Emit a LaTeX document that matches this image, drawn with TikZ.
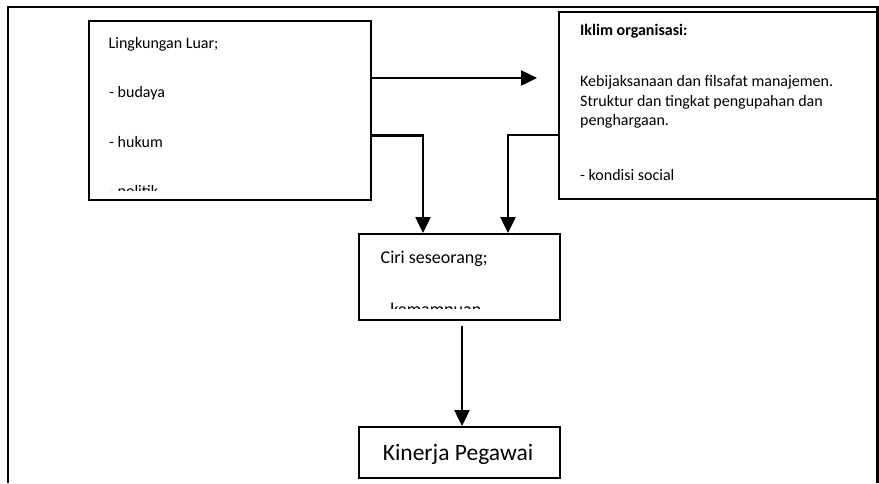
\documentclass[tikz,border=0pt]{standalone}
\usepackage{fontspec}
\setmainfont{Carlito}
\usetikzlibrary{arrows.meta}
\tikzset{
  box/.style={draw, line width=2pt, inner sep=0pt, fill=white},
  txt/.style={inner sep=0pt, anchor=base west, font=\fontsize{16}{20}\selectfont},
  arr/.style={line width=2.5pt, -{Triangle[width=15pt,length=16pt]}},
  frame/.style={line width=2.5pt}
}
\begin{document}
\begin{tikzpicture}[x=1pt,y=-1pt]
\useasboundingbox (0,0) rectangle (879,483);

% outer frame (open at the bottom)
\draw[frame] (8,483) -- (8,7) -- (877.5,7) -- (877.5,483);

% boxes
\node[box, minimum width=282pt, minimum height=179pt] (luar) at (230,110.5) {};
\node[box, minimum width=318.5pt, minimum height=187pt] (iklim) at (718.25,105.5) {};
\node[box, minimum width=201pt, minimum height=86pt] (ciri) at (459.5,277) {};
\node[box, minimum width=201pt, minimum height=51pt] (kinerja) at (459.5,452.5) {};
\draw[frame] (877.5,7) -- (877.5,200);

% text of the external environment box, cut off at the bottom
\begin{scope}
  \clip (89,21) rectangle (371,190.7);
  \node[txt] (l1) at (108.5,48) {Lingkungan Luar;};
  \node[txt] (l2) at (109,97.5) {- budaya};
  \node[txt] (l3) at (109,147) {- hukum};
  \node[txt] (l4) at (109,196.5) {- politik};
\end{scope}

% text of the organisational climate box
\node[txt, font=\fontsize{16}{20}\selectfont\bfseries] (i1) at (580,35) {Iklim organisasi:};
\node[txt] (i2) at (580,86.7) {Kebijaksanaan dan filsafat manajemen.};
\node[txt] (i3) at (580,106.3) {Struktur dan tingkat pengupahan dan};
\node[txt] (i4) at (580,125.9) {penghargaan.};
\node[txt] (i5) at (580,180) {- kondisi social};

% text of the personal traits box, cut off at the bottom
\begin{scope}
  \clip (359,234) rectangle (560,308.5);
  \node[txt, font=\fontsize{18}{22}\selectfont] (c1) at (380.5,263) {Ciri seseorang;};
  \node[txt, font=\fontsize{18}{22}\selectfont] (c2) at (380.5,315) {- kemampuan};
\end{scope}

% performance box text
\node[inner sep=0pt, anchor=base, font=\fontsize{23.5}{28}\selectfont] (k1) at (458,460) {Kinerja Pegawai};

% connectors
\coordinate (t1) at (537,78);
\coordinate (b1) at (423,135.5);
\coordinate (b2) at (508,135);
\coordinate (c4) at (462,326);
\draw[arr] (luar.east |- t1) -- (t1);
\draw[arr] (luar.east |- b1) -| (b1 |- ciri.north);
\draw[arr] (iklim.west |- b2) -| (b2 |- ciri.north);
\draw[arr] (c4) -- (c4 |- kinerja.north);
\end{tikzpicture}
\end{document}
